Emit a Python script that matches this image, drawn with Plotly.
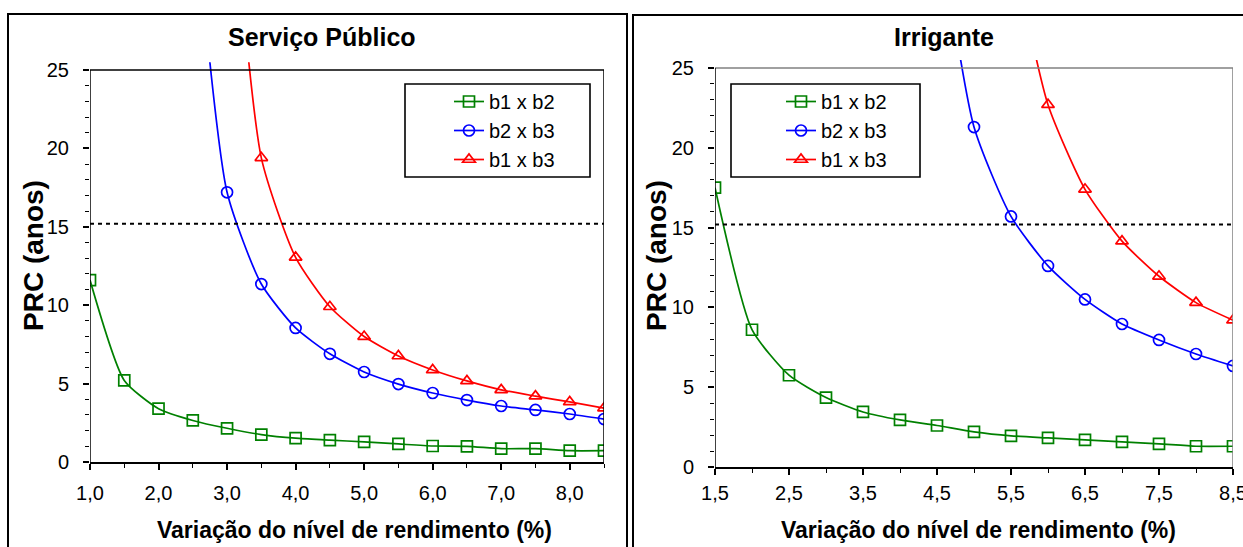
import plotly.graph_objects as go

W, H = 1243, 547
FONT = "Liberation Sans"

# ---------------- data ----------------
series_names = ["b1 x b2", "b2 x b3", "b1 x b3"]

# Serviço Público
sp_x = [1.0, 1.5, 2.0, 2.5, 3.0, 3.5, 4.0, 4.5, 5.0, 5.5, 6.0, 6.5, 7.0, 7.5, 8.0, 8.5]
sp_b1b2 = [11.6, 5.2, 3.4, 2.65, 2.15, 1.75, 1.52, 1.4, 1.28, 1.15, 1.02, 1.0, 0.85, 0.85, 0.72, 0.72]
sp_b2b3_x = [2.5, 3.0, 3.5, 4.0, 4.5, 5.0, 5.5, 6.0, 6.5, 7.0, 7.5, 8.0, 8.5]
sp_b2b3 = [36.7, 17.2, 11.35, 8.55, 6.9, 5.74, 4.97, 4.4, 3.95, 3.57, 3.32, 3.06, 2.74]
sp_b1b3_x = [3.0, 3.5, 4.0, 4.5, 5.0, 5.5, 6.0, 6.5, 7.0, 7.5, 8.0, 8.5]
sp_b1b3 = [40.8, 19.4, 13.05, 9.9, 8.0, 6.76, 5.87, 5.17, 4.6, 4.2, 3.83, 3.44]

# Irrigante
ir_x = [1.5, 2.0, 2.5, 3.0, 3.5, 4.0, 4.5, 5.0, 5.5, 6.0, 6.5, 7.0, 7.5, 8.0, 8.5]
ir_b1b2 = [17.5, 8.6, 5.75, 4.35, 3.45, 2.95, 2.6, 2.2, 1.95, 1.82, 1.7, 1.57, 1.45, 1.3, 1.3]
ir_b2b3_x = [4.5, 5.0, 5.5, 6.0, 6.5, 7.0, 7.5, 8.0, 8.5]
ir_b2b3 = [35.0, 21.3, 15.7, 12.6, 10.5, 8.96, 7.96, 7.08, 6.33]
ir_b1b3_x = [5.5, 6.0, 6.5, 7.0, 7.5, 8.0, 8.5]
ir_b1b3 = [33.0, 22.7, 17.4, 14.15, 11.95, 10.3, 9.2]

ref_level = 15.2

sp_tickvals = [1, 2, 3, 4, 5, 6, 7, 8]
sp_ticktext = ["1,0", "2,0", "3,0", "4,0", "5,0", "6,0", "7,0", "8,0"]
ir_tickvals = [1.5, 2.5, 3.5, 4.5, 5.5, 6.5, 7.5, 8.5]
ir_ticktext = ["1,5", "2,5", "3,5", "4,5", "5,5", "6,5", "7,5", "8,5"]
y_tickvals = [0, 5, 10, 15, 20, 25]
y_ticktext = ["0", "5", "10", "15", "20", "25"]

colors = ["#008000", "#0000FF", "#FF0000"]
symbols = ["square-open", "circle-open", "triangle-up-open"]

# ---------------- figure ----------------
fig = go.Figure()

def px_x(p):
    return p / W

def px_y(p):
    return (H - p) / H

panels = [
    dict(xs=[sp_x, sp_b2b3_x, sp_b1b3_x], ys=[sp_b1b2, sp_b2b3, sp_b1b3],
         xa="x", ya="y", legend="legend"),
    dict(xs=[ir_x, ir_b2b3_x, ir_b1b3_x], ys=[ir_b1b2, ir_b2b3, ir_b1b3],
         xa="x2", ya="y2", legend="legend2"),
]

for pi, p in enumerate(panels):
    for i in range(3):
        fig.add_trace(go.Scatter(
            x=p["xs"][i], y=p["ys"][i], name=series_names[i],
            mode="lines+markers",
            line=dict(color=colors[i], width=1.7, shape="spline", smoothing=0.6),
            marker=dict(symbol=symbols[i], size=11, color=colors[i],
                        line=dict(width=1.7, color=colors[i])),
            cliponaxis=True,
            xaxis=p["xa"], yaxis=p["ya"], legend=p["legend"],
        ))

axis_common = dict(
    showgrid=False, zeroline=False, ticks="outside", ticklen=6, tickwidth=1.5,
    tickcolor="black", tickfont=dict(family=FONT, size=20, color="black"),
    automargin=False, ticklabeloverflow="allow",
)

fig.update_layout(
    width=W, height=H, margin=dict(l=0, r=0, t=0, b=0, autoexpand=False),
    paper_bgcolor="white", plot_bgcolor="white",
    xaxis=dict(domain=[px_x(90), px_x(604)], range=[1.0, 8.5], anchor="y",
               tickmode="array", tickvals=sp_tickvals, ticktext=sp_ticktext,
               showline=True, linecolor="black", linewidth=1.5,
               minor=dict(tickmode="array", tickvals=[1.5, 2.5, 3.5, 4.5, 5.5, 6.5, 7.5, 8.5],
                          ticks="outside", ticklen=4, tickcolor="black", tickwidth=1.2),
               ticklabelstandoff=6, **axis_common),
    yaxis=dict(domain=[px_y(462), px_y(462 - 25.5 * 15.68)], range=[0, 25.5], anchor="x",
               tickmode="array", tickvals=y_tickvals, ticktext=y_ticktext,
               showline=False,
               minor=dict(tickmode="linear", tick0=0, dtick=1, ticks="outside", ticklen=4,
                          tickcolor="black", tickwidth=1.2),
               ticklabelstandoff=10, **axis_common),
    xaxis2=dict(domain=[px_x(715), px_x(1233)], range=[1.5, 8.5], anchor="y2",
                tickmode="array", tickvals=ir_tickvals, ticktext=ir_ticktext,
                showline=True, linecolor="black", linewidth=1.5,
                minor=dict(tickmode="array", tickvals=[2, 3, 4, 5, 6, 7, 8],
                           ticks="outside", ticklen=4, tickcolor="black", tickwidth=1.2),
                ticklabelstandoff=1, **axis_common),
    yaxis2=dict(domain=[px_y(467), px_y(467 - 25.5 * 15.96)], range=[0, 25.5], anchor="x2",
                tickmode="array", tickvals=y_tickvals, ticktext=y_ticktext,
                showline=False,
                minor=dict(tickmode="linear", tick0=0, dtick=1, ticks="outside", ticklen=4,
                           tickcolor="black", tickwidth=1.2),
                ticklabelstandoff=10, **axis_common),
    legend=dict(x=px_x(449), y=px_y(82), xanchor="left", yanchor="top",
                bgcolor="rgba(0,0,0,0)", borderwidth=0,
                font=dict(family=FONT, size=20, color="black")),
    legend2=dict(x=px_x(781), y=px_y(82), xanchor="left", yanchor="top",
                 bgcolor="rgba(0,0,0,0)", borderwidth=0,
                 font=dict(family=FONT, size=20, color="black")),
)

shapes = []
# panel outer frames
shapes.append(dict(type="rect", xref="paper", yref="paper", x0=px_x(8), x1=px_x(627),
                   y0=-0.05, y1=px_y(14), line=dict(color="black", width=2)))
shapes.append(dict(type="rect", xref="paper", yref="paper", x0=px_x(633), x1=1.05,
                   y0=-0.05, y1=px_y(15), line=dict(color="black", width=2)))
# legend boxes
shapes.append(dict(type="rect", xref="paper", yref="paper", x0=px_x(405), x1=px_x(590),
                   y0=px_y(177), y1=px_y(84), line=dict(color="black", width=1.6)))
shapes.append(dict(type="rect", xref="paper", yref="paper", x0=px_x(731), x1=px_x(920),
                   y0=px_y(177), y1=px_y(84), line=dict(color="black", width=1.6)))
# plot area frames
for xa, ya, xmin, xmax, col in [("x", "y", 1.0, 8.5, "black"), ("x2", "y2", 1.5, 8.5, "#808080")]:
    shapes.append(dict(type="line", xref=xa, yref=ya, x0=xmin, x1=xmax, y0=25, y1=25,
                       line=dict(color=col, width=1.5)))
    shapes.append(dict(type="line", xref=xa, yref=ya, x0=xmax, x1=xmax, y0=0, y1=25,
                       line=dict(color=col, width=1.5)))
    shapes.append(dict(type="line", xref=xa, yref=ya, x0=xmin, x1=xmin, y0=0, y1=25,
                       line=dict(color="black", width=1.5)))
    shapes.append(dict(type="line", xref=xa, yref=ya, x0=xmin, x1=xmax, y0=ref_level, y1=ref_level,
                       line=dict(color="black", width=2, dash="4px,4px")))
fig.update_layout(shapes=shapes)

ann = []
ann.append(dict(text="<b>Serviço Público</b>", x=px_x(322), y=px_y(37), xref="paper", yref="paper",
                xanchor="center", yanchor="middle",
                showarrow=False, font=dict(family=FONT, size=25, color="black")))
ann.append(dict(text="<b>Irrigante</b>", x=px_x(944), y=px_y(37), xref="paper", yref="paper",
                xanchor="center", yanchor="middle",
                showarrow=False, font=dict(family=FONT, size=25, color="black")))
for xc in [33, 656]:
    ann.append(dict(text="<b>PRC (anos)</b>", x=px_x(xc), y=px_y(256), xref="paper", yref="paper",
                    xanchor="center", yanchor="middle",
                    showarrow=False, textangle=-90, font=dict(family=FONT, size=28, color="black")))
for xc in [354, 978]:
    ann.append(dict(text="<b>Variação do nível de rendimento (%)</b>", x=px_x(xc), y=px_y(530),
                    xref="paper", yref="paper", showarrow=False,
                    xanchor="center", yanchor="middle",
                    font=dict(family=FONT, size=23, color="black")))
fig.update_layout(annotations=ann)

fig.write_html("out.html", config={"displayModeBar": False},
               post_script="document.body.style.margin='0px';document.body.style.overflow='hidden';")
